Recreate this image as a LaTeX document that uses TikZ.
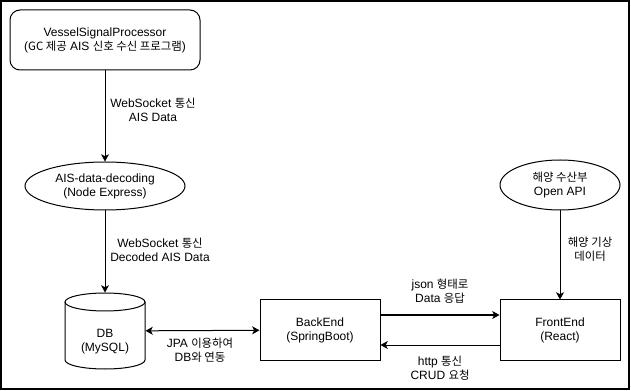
\documentclass[tikz,border=0pt]{standalone}
\usepackage{fontspec}
\setmainfont{Liberation Sans}
\newfontfamily\kr[Scale=0.95]{Noto Sans CJK KR}
\usetikzlibrary{arrows.meta, shapes.geometric}

\begin{document}
\begin{tikzpicture}[x=0.75pt, y=-0.75pt, line width=0.75pt,
    font=\fontsize{9}{10.5}\selectfont,
    >={Stealth[length=5.5pt, width=6pt, inset=1.5pt]},
    box/.style={draw, align=center, inner sep=0pt, minimum width=90pt, minimum height=45pt},
    oval/.style={draw, ellipse, align=center, inner sep=0pt},
    lbl/.style={align=center, inner sep=1pt},
    flow/.style={->}]
    \useasboundingbox (0,0) rectangle (631,391);
    \draw[line width=1.2pt] (1,1) rectangle (629,389);

    % sources
    \node[box, rounded corners=7.5pt, minimum width=142.5pt] (vsp) at (105,40)
        {VesselSignalProcessor\\({\kr GC 제공} AIS {\kr 신호 수신 프로그램})};
    \node[oval, minimum width=120pt, minimum height=36pt] (decoder) at (105,186)
        {AIS-data-decoding\\(Node Express)};
    \node[oval, minimum width=90pt, minimum height=37.5pt] (openapi) at (560,185)
        {{\kr 해양 수산부}\\Open API};

    % database, drawn as a cylinder round the node db
    \node[minimum width=60pt, minimum height=57pt, inner sep=0pt] (db) at (105,331) {};
    \draw (105,302) ellipse [x radius=40, y radius=9];
    \draw (65,302) -- (65,360) arc[start angle=180, end angle=0, x radius=40, y radius=9] -- (145,302);
    \node[align=center] (dbname) at (105,342) {DB\\(MySQL)};

    % servers
    \node[box] (back) at (320,330) {BackEnd\\(SpringBoot)};
    \node[box] (front) at (560,330) {FrontEnd\\(React)};

    % connectors
    \draw[flow] (vsp) -- (decoder);
    \draw[flow] (decoder) -- (db);
    \draw[<->] (db) -- (back);
    \draw[flow] ([shift={(0,-15)}]back.east) -- ([shift={(0,-15)}]front.west);
    \draw[flow] ([shift={(0,15)}]front.west) -- ([shift={(0,15)}]back.east);
    \draw[flow] (openapi) -- (front);

    % connector labels
    \node[lbl] (l1) at (153,110) {WebSocket {\kr 통신}\\AIS Data};
    \node[lbl] (l2) at (160,250) {WebSocket {\kr 통신}\\Decoded AIS Data};
    \node[lbl] (l3) at (200,350) {JPA {\kr 이용하여}\\DB{\kr 와 연동}};
    \node[lbl] (l4) at (440,291) {json {\kr 형태로}\\Data {\kr 응답}};
    \node[lbl] (l5) at (440,368) {http {\kr 통신}\\CRUD {\kr 요청}};
    \node[lbl] (l6) at (590,249) {{\kr 해양 기상}\\{\kr 데이터}};
\end{tikzpicture}
\end{document}
